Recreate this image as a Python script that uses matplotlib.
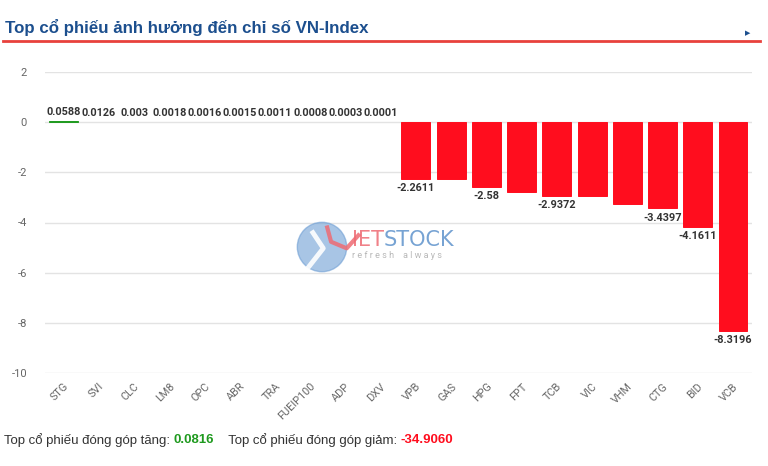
import matplotlib.pyplot as plt
from matplotlib.patches import Circle

plt.rcParams['font.family'] = ['Roboto', 'DejaVu Sans']

# --- data ---
tickers = ['STG', 'SVI', 'CLC', 'LM8', 'OPC', 'ABR', 'TRA', 'FUEIP100', 'ADP', 'DXV',
           'VPB', 'GAS', 'HPG', 'FPT', 'TCB', 'VIC', 'VHM', 'CTG', 'BID', 'VCB']
impact = [0.0588, 0.0126, 0.003, 0.0018, 0.0016, 0.0015, 0.0011, 0.0008, 0.0003, 0.0001,
          -2.2611, -2.27, -2.58, -2.78, -2.9372, -2.95, -3.28, -3.4397, -4.1611, -8.3196]
# chart only prints some of the labels (overlap avoidance)
show_label = [True] * 10 + [True, False, True, False, True, False, False, True, True, True]
y_ticks = [2, 0, -2, -4, -6, -8, -10]

total_up = '0.0816'
total_down = '-34.9060'

GREEN = '#1f9a1f'
RED = '#ff0d1e'
TITLE_BLUE = '#1c4f8e'

fig = plt.figure(figsize=(7.68, 4.66), dpi=100)
ax = fig.add_axes([45 / 768, 1 - 373 / 466, (752 - 45) / 768, (373 - 72) / 466])

x = list(range(len(tickers)))
colors = [GREEN if v >= 0 else RED for v in impact]
# thin outline so the tiny STG bar still shows as a line, like the original
edges = [0.7 if abs(v) > 0.03 else 0 for v in impact]
ax.bar(x, impact, width=0.82, color=colors, edgecolor=colors, linewidth=edges, zorder=3)

for xi, v, show in zip(x, impact, show_label):
    if not show:
        continue
    txt = f'{v:g}'
    if v >= 0:
        ax.annotate(txt, (xi, v), xytext=(0, 3), textcoords='offset points',
                    ha='center', va='bottom', fontsize=7.8, fontweight='bold', color='#333333')
    else:
        ax.annotate(txt, (xi, v), xytext=(0, -3), textcoords='offset points',
                    ha='center', va='top', fontsize=7.8, fontweight='bold', color='#333333')

ax.set_xlim(-0.53, 19.54)
ax.set_ylim(-10, 2)
ax.set_yticks(y_ticks)
ax.set_yticklabels([str(t) for t in y_ticks])
ax.set_xticks(x)
ax.set_xticklabels(tickers, rotation=45, ha='right', rotation_mode='anchor')
ax.tick_params(axis='y', length=0, pad=13, labelsize=8, labelcolor='#666666')
ax.tick_params(axis='x', length=0, pad=6, labelsize=7.8, labelcolor='#666666')
ax.grid(axis='y', color='#e3e3e3', linewidth=1, zorder=0)
for s in ax.spines.values():
    s.set_visible(False)

# title + underline
fig.text(5 / 768, 1 - 27 / 466, 'Top cổ phiếu ảnh hưởng đến chỉ số VN-Index',
         fontsize=12.2, fontweight='bold', color=TITLE_BLUE, va='center', ha='left',
         family=['Liberation Sans', 'DejaVu Sans'])
fig.add_artist(plt.Line2D([3 / 768, 760 / 768], [1 - 41 / 466, 1 - 41 / 466],
                          color='#e8413c', linewidth=2))
fig.text(748 / 768, 1 - 33 / 466, '▶', fontsize=5, color=TITLE_BLUE, va='center', ha='center',
         family=['DejaVu Sans'])

renderer = fig.canvas.get_renderer()


def chain(pieces, x0, y0, **kw):
    # place text pieces one after another on a line (pixel coords from top-left)
    xp = x0
    for txt, extra in pieces:
        t = fig.text(xp / 768, 1 - y0 / 466, txt, va='center', ha='left', **kw, **extra)
        bb = t.get_window_extent(renderer)
        xp = bb.x1


# watermark
lx = fig.add_axes([296 / 768, 1 - 273 / 466, 52 / 768, 52 / 466])
lx.set_xlim(-1, 1)
lx.set_ylim(-1, 1)
lx.set_aspect('equal')
lx.axis('off')
lx.add_patch(Circle((0, 0), 0.95, color='#6f9fd4', alpha=0.6))
lx.plot([-0.5, 0.05, -0.35], [-0.75, -0.05, 0.55], color='white', lw=3.5, alpha=0.9)
lx.plot([0.2, 0.35, 0.95, 1.4], [0.75, 0.2, -0.05, 0.45], color='#ee6b73', lw=3,
        alpha=0.85, clip_on=False)
chain([('IET', dict(color='#ee6b73')), ('STOCK', dict(color='#5f93cc'))],
      352, 240, fontsize=15, alpha=0.85, family=['DejaVu Sans'])
fig.text(352 / 768, 1 - 256 / 466, 'r e f r e s h    a l w a y s', fontsize=6.5,
         color='#b8b8b8', va='center', ha='left')

# footer
FOOT = ['Liberation Sans', 'DejaVu Sans']
chain([('Top cổ phiếu đóng góp tăng: ', dict(color='#333333')),
       (total_up, dict(color=GREEN, fontweight='bold')),
       ('    Top cổ phiếu đóng góp giảm: ', dict(color='#333333')),
       (total_down, dict(color=RED, fontweight='bold'))],
      4, 440, fontsize=9.5, family=FOOT)

fig.savefig('out.png', dpi=100)
